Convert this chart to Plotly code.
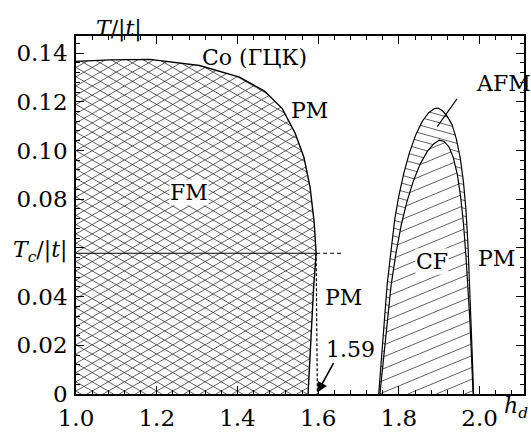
import plotly.graph_objects as go

# ---- data ----
fm_h = [1.0, 1.084, 1.183, 1.306, 1.405, 1.467, 1.511, 1.543, 1.565, 1.580, 1.590, 1.595, 1.589, 1.584, 1.578, 1.575]
fm_T = [0.1366, 0.1372, 0.1374, 0.1349, 0.1301, 0.1244, 0.1172, 0.1071, 0.0970, 0.0848, 0.0707, 0.0578, 0.0444, 0.0283, 0.0121, 0.0]

afm_h = [1.750, 1.757, 1.764, 1.771, 1.780, 1.790, 1.800, 1.812, 1.826, 1.842, 1.858, 1.874, 1.888, 1.897,
         1.908, 1.920, 1.932, 1.942, 1.952, 1.960, 1.966, 1.971, 1.975, 1.979, 1.982, 1.985]
afm_T = [0.0, 0.015, 0.03, 0.045, 0.058, 0.072, 0.0815, 0.0905, 0.099, 0.1065, 0.1120, 0.1155, 0.1172, 0.1174,
         0.1163, 0.1140, 0.1105, 0.105, 0.097, 0.087, 0.076, 0.062, 0.045, 0.03, 0.015, 0.0]

cf_h = [1.753, 1.762, 1.771, 1.781, 1.793, 1.806, 1.820, 1.836, 1.853, 1.870, 1.886, 1.900, 1.912, 1.924,
        1.935, 1.945, 1.953, 1.960, 1.966, 1.971, 1.976, 1.980, 1.984]
cf_T = [0.0, 0.015, 0.03, 0.045, 0.058, 0.0695, 0.079, 0.0875, 0.0945, 0.0995, 0.1027, 0.1042, 0.1037, 0.1015,
        0.097, 0.090, 0.081, 0.070, 0.057, 0.045, 0.03, 0.015, 0.0]

Tc = 0.0578
Tc_h = [1.0, 1.595, 1.664]
h_crit = [1.595, 1.598]

xtick_vals = [1.0, 1.2, 1.4, 1.6, 1.8, 2.0]
xtick_text = ["1.0", "1.2", "1.4", "1.6", "1.8", "2.0"]
ytick_vals = [0, 0.02, 0.04, 0.06, 0.08, 0.10, 0.12, 0.14]
ytick_text = ["0", "0.02", "0.04", "", "0.08", "0.10", "0.12", "0.14"]

X_RANGE = [1.0, 2.11]
Y_RANGE = [0.0, 0.147]
FONT = "DejaVu Serif"

# ---- hatch helper: clips a family of parallel lines to polygons (even-odd rule),
#      in a screen-proportional frame so angles/spacing look right ----
SX = 450 / (X_RANGE[1] - X_RANGE[0])
SY = 364 / (Y_RANGE[1] - Y_RANGE[0])


def hatch(polys, slope, spacing, phase=0.0):
    edges = []
    for hs, ts in polys:
        pts = [((h - X_RANGE[0]) * SX, t * SY) for h, t in zip(hs, ts)]
        if pts[0] != pts[-1]:
            pts.append(pts[0])
        edges += list(zip(pts[:-1], pts[1:]))
    cs = [p[1] - slope * p[0] for (p, _) in edges]
    cmin, cmax = min(cs), max(cs)
    k = int((cmin - phase) // spacing)
    xs, ys = [], []
    while phase + k * spacing <= cmax:
        c = phase + k * spacing
        us = []
        for (u1, v1), (u2, v2) in edges:
            f1 = v1 - slope * u1 - c
            f2 = v2 - slope * u2 - c
            if (f1 < 0 <= f2) or (f2 < 0 <= f1):
                t = f1 / (f1 - f2)
                us.append(u1 + t * (u2 - u1))
        us.sort()
        for i in range(0, len(us) - 1, 2):
            for u in (us[i], us[i + 1]):
                xs.append(X_RANGE[0] + u / SX)
                ys.append((slope * u + c) / SY)
            xs.append(None)
            ys.append(None)
        k += 1
    return xs, ys


fig = go.Figure()
fm_poly = ([1.0] + fm_h + [1.0], [0.0] + fm_T + [0.0])
HC = "#3a3a3a"


def add_lines(xs, ys, color="black", width=1.0, dash=None):
    fig.add_trace(go.Scatter(x=xs, y=ys, mode="lines",
                             line=dict(color=color, width=width, dash=dash),
                             hoverinfo="skip", showlegend=False))


# FM cross-hatch (diamond lattice)
for s in (0.58, -0.58):
    hx, hy = hatch([fm_poly], s, 9.4, 3.0)
    add_lines(hx, hy, HC, 0.8)
# AFM band hatch (outer minus inner dome)
hx, hy = hatch([(afm_h, afm_T), (cf_h, cf_T)], -0.28, 8.0, 2.0)
add_lines(hx, hy, HC, 0.8)
# CF hatch
hx, hy = hatch([(cf_h, cf_T)], 0.42, 12.0, 4.0)
add_lines(hx, hy, HC, 0.8)

# outlines
add_lines(fm_h, fm_T, "black", 1.4)
add_lines(afm_h, afm_T, "black", 1.2)
add_lines(cf_h, cf_T, "black", 1.2)

# Tc line: solid inside FM, dashed outside
add_lines(Tc_h[:2], [Tc, Tc], "black", 1.2)
add_lines(Tc_h[1:], [Tc, Tc], "black", 1.2, "4px,3px")
# critical dashed vertical
add_lines(h_crit, [Tc, 0.0], "black", 1.2, "3px,2px")
# AFM pointer
add_lines([1.944, 1.895], [0.1212, 0.1098], "black", 1.1)

tf = dict(family=FONT, size=22, color="black")


def lab(x, y, t, bg=None, **kw):
    d = dict(x=x, y=y, text=t, showarrow=False, font=tf)
    if bg:
        d["bgcolor"] = bg
        d["borderpad"] = 0
    d.update(kw)
    fig.add_annotation(**d)


lab(1.442, 0.1382, "Co (ГЦК)")
lab(1.578, 0.1164, "PM")
lab(1.281, 0.0828, "FM", bg="white")
lab(2.059, 0.1277, "AFM")
lab(1.881, 0.0545, "CF", bg="white")
lab(2.042, 0.0558, "PM")
lab(1.664, 0.0396, "PM")
lab(1.681, 0.0182, "1.59")

# arrow to 1.59
fig.add_annotation(x=1.598, y=0.0006, ax=17, ay=-31, text="", showarrow=True,
                   arrowhead=2, arrowsize=1.3, arrowwidth=1.6, arrowcolor="black")

# axis titles
big = dict(family=FONT, size=22, color="black")
fig.add_annotation(x=0.04, y=1.062, xref="paper", yref="paper", showarrow=False,
                   text="<i>T</i>/|<i>t</i>|", font=big)
fig.add_annotation(x=-0.016, y=0.398, xref="paper", yref="paper", xanchor="right", showarrow=False,
                   text="<i>T</i><sub><i>c</i></sub>/|<i>t</i>|", font=big)
fig.add_annotation(x=1.011, y=-0.082, xref="paper", yref="paper", xanchor="right", showarrow=False,
                   text="<i>h</i><sub><i>d</i></sub>", font=big, borderpad=0)

axis_common = dict(showline=True, linecolor="black", linewidth=1.5, mirror="ticks",
                   ticks="inside", ticklen=8, tickwidth=1.2, tickcolor="black",
                   showgrid=False, zeroline=False,
                   tickfont=dict(family=FONT, size=23, color="black"))
fig.update_xaxes(range=X_RANGE, tickvals=xtick_vals, ticktext=xtick_text, ticklabelstandoff=3,
                 minor=dict(dtick=0.04, ticks="inside", ticklen=4, tickcolor="black", tickwidth=1),
                 **axis_common)
fig.update_yaxes(range=Y_RANGE, tickvals=ytick_vals, ticktext=ytick_text, ticklabelstandoff=2,
                 minor=dict(dtick=0.004, ticks="inside", ticklen=4, tickcolor="black", tickwidth=1),
                 **axis_common)

fig.update_layout(width=531, height=436, margin=dict(l=76, r=5, t=36, b=36),
                  plot_bgcolor="white", paper_bgcolor="white", showlegend=False)

fig.write_html("out.html")
